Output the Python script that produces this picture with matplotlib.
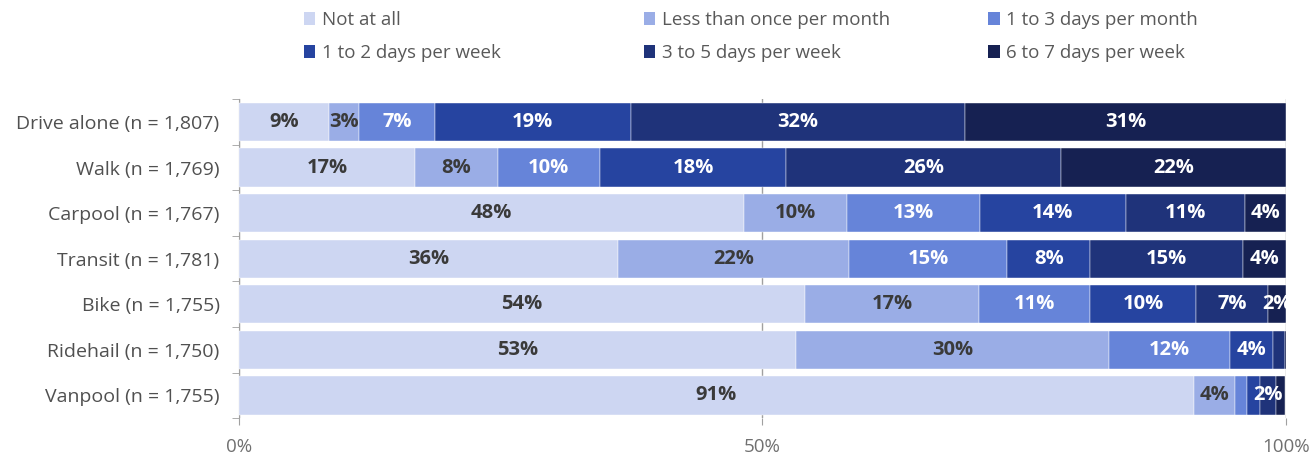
import matplotlib.pyplot as plt
import numpy as np

plt.rcParams["font.family"] = ["Open Sans", "DejaVu Sans"]

modes = ["Drive alone (n = 1,807)", "Walk (n = 1,769)", "Carpool (n = 1,767)",
         "Transit (n = 1,781)", "Bike (n = 1,755)", "Ridehail (n = 1,750)",
         "Vanpool (n = 1,755)"]
freqs = ["Not at all", "Less than once per month", "1 to 3 days per month",
         "1 to 2 days per week", "3 to 5 days per week", "6 to 7 days per week"]

# share of respondents (%), one list per frequency, in mode order
not_at_all = [8.6, 16.8, 48.2, 36.2, 54.1, 53.2, 91.2]
less_monthly = [2.9, 7.9, 9.9, 22.1, 16.6, 29.9, 3.9]
month_1_3 = [7.2, 9.8, 12.7, 15.1, 10.6, 11.6, 1.2]
week_1_2 = [18.7, 17.8, 13.9, 7.9, 10.1, 4.1, 1.2]
week_3_5 = [32.0, 26.2, 11.4, 14.6, 6.9, 1.1, 1.6]
week_6_7 = [30.6, 21.5, 3.9, 4.1, 1.7, 0.3, 0.8]

series = [not_at_all, less_monthly, month_1_3, week_1_2, week_3_5, week_6_7]
colors = ["#cdd6f2", "#9aade6", "#6684d9", "#2644a0", "#1f337a", "#162152"]
text_colors = ["#3a3a3a", "#3a3a3a", "white", "white", "white", "white"]

fig, ax = plt.subplots(figsize=(13.11, 4.57), dpi=100)
fig.subplots_adjust(left=0.1823, right=0.9808, top=0.783, bottom=0.085)

y = np.arange(len(modes))
left = np.zeros(len(modes))
handles = []
for vals, name, col, tcol in zip(series, freqs, colors, text_colors):
    vals = np.array(vals)
    bars = ax.barh(y, vals, left=left, height=0.84, color=col, label=name,
                   edgecolor="white", linewidth=0.3, zorder=3)
    handles.append(bars)
    for yi, (l, v) in enumerate(zip(left, vals)):
        if round(v) >= 2:
            ax.text(l + v / 2, yi, f"{round(v)}%", ha="center", va="center",
                    color=tcol, fontsize=14.5, fontweight="bold", zorder=4)
    left += vals

ax.set_xlim(0, 100)
ax.set_ylim(len(modes) - 0.5, -0.5)
ax.set_yticks(y)
ax.set_yticklabels(modes, fontsize=14, color="#505050")
ax.set_yticks(np.arange(-0.5, len(modes)), minor=True)
ax.tick_params(axis="y", which="major", length=0, pad=14)
ax.tick_params(axis="y", which="minor", length=5, color="#a0a0a0")
ax.set_xticks([0, 50, 100])
ax.set_xticklabels(["0%", "50%", "100%"], fontsize=13.5, color="#707070")
ax.tick_params(axis="x", length=5, color="#a0a0a0", pad=9)
ax.grid(axis="x", color="#a0a0a0", linewidth=1, zorder=0)

for s in ["top", "bottom", "right"]:
    ax.spines[s].set_visible(False)
ax.spines["left"].set_color("#a0a0a0")

# legend: three columns, filled row by row
col_x = [0.232, 0.491, 0.754]
for i, x in enumerate(col_x):
    leg = fig.legend([handles[i], handles[i + 3]], [freqs[i], freqs[i + 3]],
                     loc="upper left", bbox_to_anchor=(x, 0.976), ncol=1,
                     frameon=False, fontsize=13.5, handlelength=0.6,
                     handleheight=0.7, handletextpad=0.35, labelcolor="#595959",
                     borderaxespad=0, borderpad=0, labelspacing=0.8)
    for h in leg.legend_handles:
        h.set_linewidth(0)

plt.savefig("out.png", dpi=100)
